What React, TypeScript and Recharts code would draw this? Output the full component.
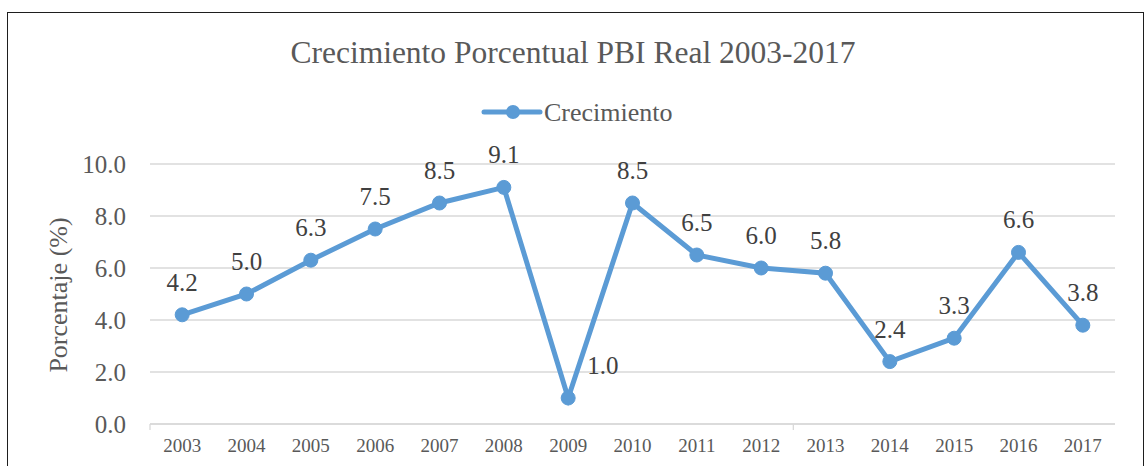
import React from 'react';
import { LineChart, Line, XAxis, YAxis, CartesianGrid, LabelList } from 'recharts';

const years = ['2003', '2004', '2005', '2006', '2007', '2008', '2009', '2010', '2011', '2012', '2013', '2014', '2015', '2016', '2017'];
const growth = [4.2, 5.0, 6.3, 7.5, 8.5, 9.1, 1.0, 8.5, 6.5, 6.0, 5.8, 2.4, 3.3, 6.6, 3.8];
const yTicks = [0, 2, 4, 6, 8, 10];
const rightLabelYears = ['2009'];

const TITLE = 'Crecimiento Porcentual PBI Real 2003-2017';
const SERIES = 'Crecimiento';
const Y_LABEL = 'Porcentaje (%)';

const data = years.map((y, i) => ({ year: y, value: growth[i] }));

const FONT = '"Liberation Serif", "Times New Roman", serif';
const BLUE = '#5B9BD5';
const W = 1144;
const H = 466;
const MARGIN = { top: 164, right: 29, left: 0, bottom: 0 };
const Y_W = 150;
const PLOT_W = W - MARGIN.right - Y_W;
const STEP = PLOT_W / years.length;

const XTick = (props: any) => {
  const { x, y, payload, index } = props;
  return (
    <g>
      {index % 10 === 0 && (
        <line x1={x - STEP / 2} x2={x - STEP / 2} y1={y - 8} y2={y - 2} stroke="#D9D9D9" strokeWidth={1.3} />
      )}
      <text x={x} y={y + 20} textAnchor="middle" fontSize={19} fill="#595959" style={{ fontFamily: FONT }}>
        {payload.value}
      </text>
    </g>
  );
};

const renderLabel = (props: any) => {
  const { x, y, value, index } = props;
  const right = rightLabelYears.includes(years[index]);
  return (
    <text
      x={right ? x + 19 : x}
      y={y - 24}
      textAnchor={right ? 'start' : 'middle'}
      fontSize={25}
      fill="#404040"
      style={{ fontFamily: FONT }}
    >
      {Number(value).toFixed(1)}
    </text>
  );
};

const renderYLabel = (props: any) => {
  const vb = props.viewBox || {};
  const cx = (vb.x || 0) + 67;
  const cy = (vb.y || 0) + (vb.height || 0) / 2 + 1;
  return (
    <text
      x={cx}
      y={cy}
      transform={`rotate(-90, ${cx}, ${cy})`}
      textAnchor="middle"
      fontSize={26}
      fill="#595959"
      style={{ fontFamily: FONT }}
    >
      {Y_LABEL}
    </text>
  );
};

export default function App() {
  return (
    <div style={{ position: 'absolute', left: 0, top: 0, width: W, height: H, overflow: 'hidden', background: '#fff', fontFamily: FONT }}>
      <div
        style={{
          position: 'absolute',
          left: 7,
          top: 12,
          width: 1137,
          height: 500,
          border: '1.5px solid #1e1e1e',
          boxSizing: 'border-box',
        }}
      />
      <div style={{ position: 'absolute', left: 0, top: 0 }}>
        <LineChart width={W} height={H} data={data} margin={MARGIN}>
          <CartesianGrid vertical={false} stroke="#D9D9D9" strokeWidth={1.3} />
          <XAxis
            dataKey="year"
            height={42}
            padding={{ left: STEP / 2, right: STEP / 2 }}
            axisLine={{ stroke: '#D9D9D9', strokeWidth: 1.3 }}
            tickLine={false}
            tick={<XTick />}
            interval={0}
          />
          <YAxis
            width={Y_W}
            domain={[0, 10]}
            ticks={yTicks}
            axisLine={false}
            tickLine={false}
            tickMargin={18}
            tickFormatter={(v: number) => v.toFixed(1)}
            tick={{ fontSize: 25, fill: '#595959', fontFamily: FONT }}
            label={{ content: renderYLabel }}
          />
          <Line
            type="linear"
            dataKey="value"
            stroke={BLUE}
            strokeWidth={5}
            dot={{ r: 7, fill: BLUE, stroke: BLUE, strokeWidth: 1 }}
            activeDot={false}
            isAnimationActive={false}
          >
            <LabelList dataKey="value" content={renderLabel} />
          </Line>
        </LineChart>
      </div>
      <svg width={W} height={H} style={{ position: 'absolute', left: 0, top: 0, pointerEvents: 'none' }}>
        <text x={573} y={63} textAnchor="middle" fontSize={31.5} fill="#595959" style={{ fontFamily: FONT }}>
          {TITLE}
        </text>
        <line x1={484} x2={540} y1={112} y2={112} stroke={BLUE} strokeWidth={5} strokeLinecap="round" />
        <circle cx={513} cy={112} r={7} fill={BLUE} />
        <text x={544} y={112} dy="0.35em" fontSize={26} fill="#595959" style={{ fontFamily: FONT }}>
          {SERIES}
        </text>
      </svg>
    </div>
  );
}
